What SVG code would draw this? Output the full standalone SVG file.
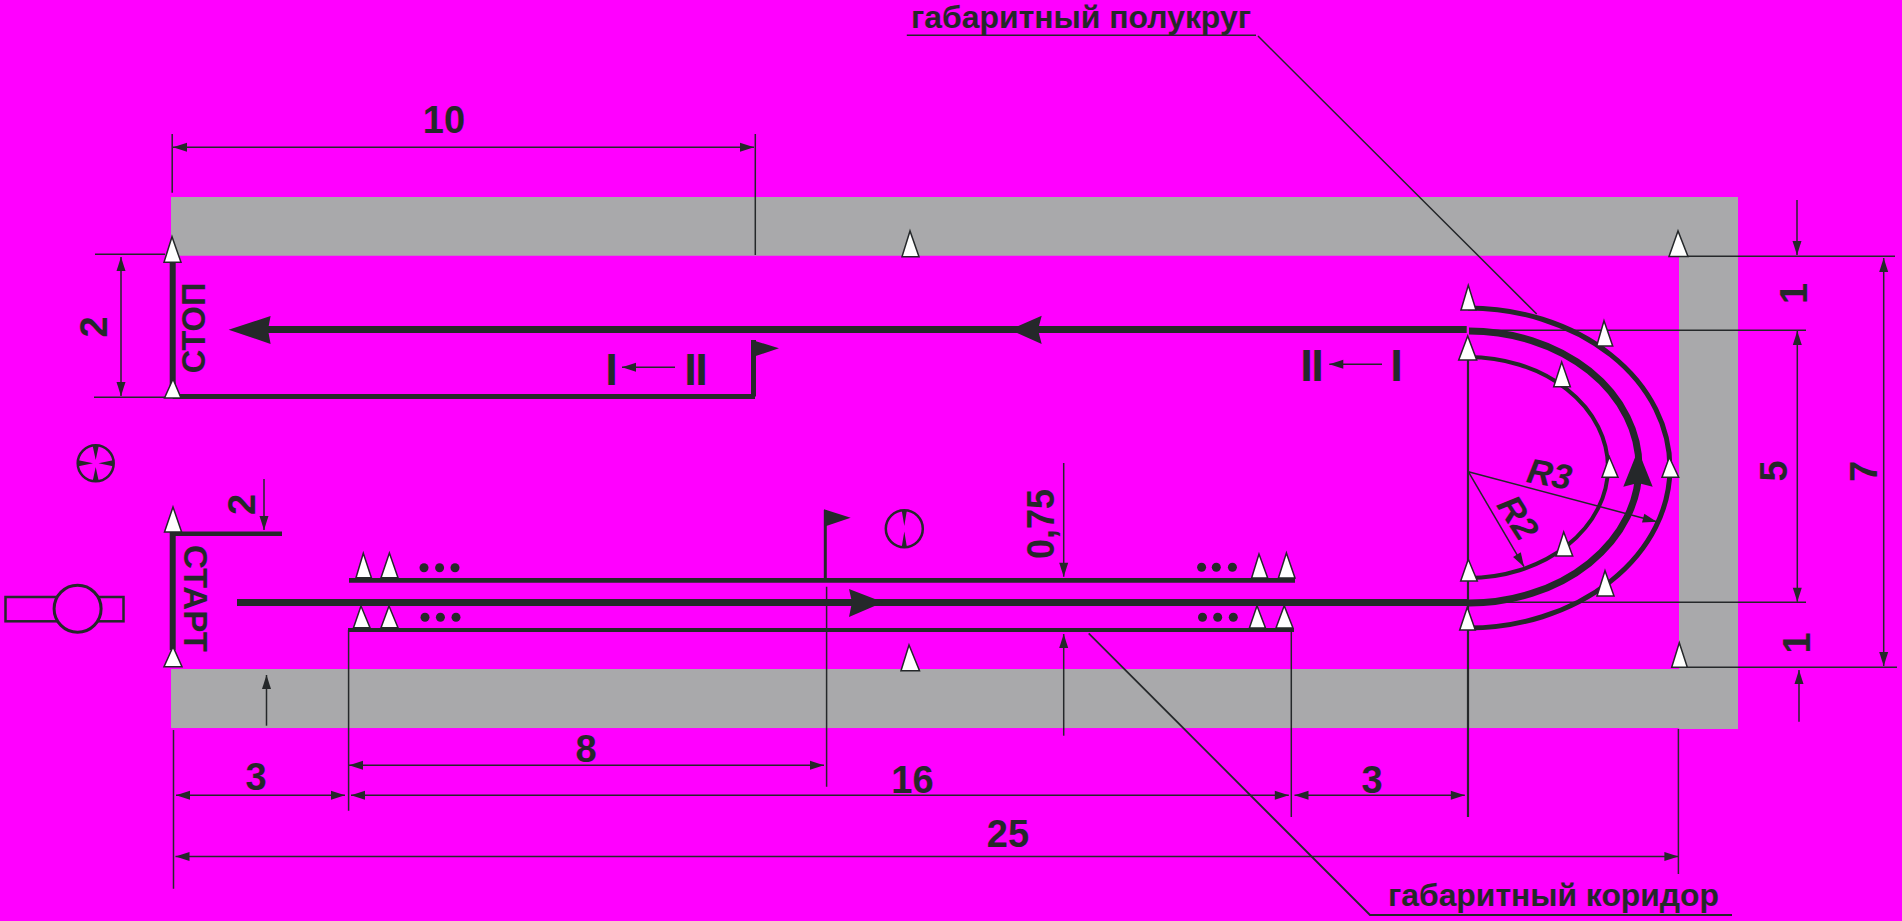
<svg xmlns="http://www.w3.org/2000/svg" width="1902" height="921" viewBox="0 0 1902 921">
<style>
.t{font-family:"Liberation Sans",Arial,sans-serif;font-weight:bold;fill:#25282a;text-anchor:middle}
.d{font-size:38px}
.n{font-size:33px}
.r{font-size:35px;font-style:italic}
.b{font-size:45px}
.l{font-size:31px;text-anchor:start}
.cone{fill:#fff;stroke:#25282a;stroke-width:1.5;stroke-linejoin:miter}
.thin{stroke:#25282a;stroke-width:1.5;fill:none}
.dim{stroke:#25282a;stroke-width:1.5;fill:none;marker-start:url(#ah);marker-end:url(#ah)}
.one{stroke:#25282a;stroke-width:1.5;fill:none;marker-end:url(#ah)}
.heavy{stroke:#25282a;fill:none}
.fill{fill:#25282a}
.sym{fill:none;stroke:#25282a;stroke-width:2.5}
</style>
<defs>
<marker id="ah" markerUnits="userSpaceOnUse" viewBox="0 -5 14 10" refX="14" refY="0" markerWidth="14" markerHeight="10" orient="auto-start-reverse" overflow="visible"><path d="M14 0L0 -4.5V4.5Z" fill="#25282a"/></marker>
</defs>
<rect width="1902" height="921" fill="#ff00ff"/>
<g id="track-border">
<path fill="#a9a9ab" d="M171 197H1738V729H1679V728H171V669H1679V255.7H171Z"/>
</g>
<g id="connectors">
<!-- extension lines -->
<path class="thin" d="M172.2 134V192.7M755.3 134V255M95 254.3H165M94 397.3H165M173.5 730V888.7M348.6 630V810.7M826.6 586.7V786.7M1291.3 630V817M1678.4 729V874M1470 330.3H1806M1490 602.3H1806M1688 256.3H1895M1687 667.3H1897"/>
<!-- dimension lines -->
<line class="dim" x1="173" y1="147.3" x2="754" y2="147.3"/>
<line class="dim" x1="121" y1="257" x2="121" y2="396"/>
<line class="dim" x1="176" y1="795.3" x2="345" y2="795.3"/>
<line class="dim" x1="351" y1="795.3" x2="1288.8" y2="795.3"/>
<line class="dim" x1="1294.5" y1="795.3" x2="1464.8" y2="795.3"/>
<line class="dim" x1="349" y1="765.3" x2="824" y2="765.3"/>
<line class="dim" x1="175.5" y1="856.5" x2="1678.4" y2="856.5"/>
<line class="dim" x1="1797.3" y1="331" x2="1797.3" y2="601.7"/>
<line class="dim" x1="1883.7" y1="258" x2="1883.7" y2="666"/>
<line class="one" x1="264" y1="479" x2="264" y2="530"/>
<line class="one" x1="266.5" y1="725.7" x2="266.5" y2="675"/>
<line class="one" x1="1063.7" y1="463" x2="1063.7" y2="576.7"/>
<line class="one" x1="1063.7" y1="735.7" x2="1063.7" y2="634"/>
<line class="one" x1="1797" y1="200" x2="1797" y2="255"/>
<line class="one" x1="1799" y1="721.7" x2="1799" y2="670"/>
<line class="one" x1="675" y1="367.3" x2="622" y2="367.3"/>
<line class="one" x1="1382" y1="364.3" x2="1329.3" y2="364.3"/>
<line class="one" x1="1468.3" y1="471.7" x2="1656.7" y2="521.7"/>
<line class="one" x1="1468.3" y1="471.7" x2="1524" y2="566.7"/>
<!-- leaders -->
<path class="thin" d="M906.8 35.3H1256M1258 36L1536.7 314"/>
<path class="thin" d="M1088.7 633.3L1370 915H1732" style="stroke-width:1.8"/>
<!-- centre line -->
<line class="heavy" x1="1468" y1="360" x2="1468" y2="817" stroke-width="2.2"/>
<!-- route lines -->
<path class="heavy" stroke-width="6" d="M172.7 262V396"/>
<path class="heavy" stroke-width="5" d="M172.7 396.5H755M753.5 396.5V340"/>
<path class="heavy" stroke-width="4.5" d="M172.7 533.7H282"/>
<path class="heavy" stroke-width="6" d="M172.7 532V650"/>
<path class="heavy" stroke-width="7" d="M258 329.5H1466.7"/>
<path class="heavy" stroke-width="7" d="M237 602.5H1469"/>
<path class="heavy" stroke-width="7" d="M1469 331A170 136 0 0 1 1469 603"/>
<path class="heavy" stroke-width="5" d="M1468 308A202 160 0 0 1 1468 628"/>
<path class="heavy" stroke-width="4" d="M1468 357A140 110.5 0 0 1 1468 578"/>
<path class="heavy" stroke-width="4.7" d="M349 580.3H1295"/>
<path class="heavy" stroke-width="3.8" d="M348 630H1294"/>
<line class="heavy" x1="825.3" y1="578" x2="825.3" y2="510" stroke-width="3"/>
<!-- route arrowheads and flags -->
<polygon class="fill" points="228.6,329.7 270.6,316 268,329.7 270.6,344"/>
<polygon class="fill" points="1010,329.7 1041.7,315.7 1038,329.7 1041.7,344"/>
<polygon class="fill" points="883.3,602.3 849,589 852,602.3 849,617"/>
<polygon class="fill" points="1638,450 1652.7,486.7 1638,483 1623.3,486.7"/>
<polygon class="fill" points="752,340 779,348.3 752,357.3"/>
<polygon class="fill" points="824,509.3 850.7,517.7 824,526.7"/>
</g>
<g id="cones">
<polygon class="cone" id="c1" points="172,236.7 164,262.3 181,262.3"/>
<polygon class="cone" id="c2" points="173,379 164.5,398 181,398"/>
<polygon class="cone" id="c3" points="173,507 164.5,532 181.6,532"/>
<polygon class="cone" id="c4" points="173,646.7 164,666.7 182,666.7"/>
<polygon class="cone" id="c5" points="910,231 902,256.7 919,256.7"/>
<polygon class="cone" id="c6" points="909,645 901,670.7 919.5,670.7"/>
<polygon class="cone" id="c7" points="1678,231 1669,256.5 1688,256.5"/>
<polygon class="cone" id="c8" points="1679.3,642.7 1671.7,667.3 1687.3,667.3"/>
<polygon class="cone" id="c9" points="363.3,553.3 356,577.7 371.4,577.7"/>
<polygon class="cone" id="c10" points="389.4,553 381,577.7 398,577.7"/>
<polygon class="cone" id="c11" points="361,606 353.5,627.7 370,627.7"/>
<polygon class="cone" id="c12" points="389,606 381,627.7 398,627.7"/>
<polygon class="cone" id="c13" points="1259,554 1251.6,578 1267.7,578"/>
<polygon class="cone" id="c14" points="1286.4,553 1278.4,578 1295,578"/>
<polygon class="cone" id="c15" points="1257,605.7 1249.4,628 1265.5,628"/>
<polygon class="cone" id="c16" points="1284.2,605.7 1276,628 1293,628"/>
<polygon class="cone" id="c17" points="1468.3,285.3 1461,310 1476,310"/>
<polygon class="cone" id="c18" points="1467.7,336 1458.7,360 1476.7,360"/>
<polygon class="cone" id="c19" points="1604,320.7 1596.7,346 1612.7,346"/>
<polygon class="cone" id="c20" points="1561.7,362 1553.7,386.7 1570.3,386.7"/>
<polygon class="cone" id="c21" points="1609.3,456.7 1602,477.3 1618,477.3"/>
<polygon class="cone" id="c22" points="1669.3,457.3 1662,477.3 1678.7,477.3"/>
<polygon class="cone" id="c23" points="1563.7,532 1556,556 1572.7,556"/>
<polygon class="cone" id="c24" points="1468.3,559.3 1460.7,581 1477.3,581"/>
<polygon class="cone" id="c25" points="1605,570.7 1597,596 1614,596"/>
<polygon class="cone" id="c26" points="1467.3,607.3 1459.7,630 1475.3,630"/>
</g>
<g id="dots" class="fill">
<circle cx="424" cy="567.7" r="4.5"/><circle cx="439.6" cy="567.7" r="4.5"/><circle cx="455" cy="567.7" r="4.5"/>
<circle cx="425" cy="617.3" r="4.5"/><circle cx="440.4" cy="617.3" r="4.5"/><circle cx="456" cy="617.3" r="4.5"/>
<circle cx="1201.6" cy="567.3" r="4.5"/><circle cx="1216.3" cy="567.3" r="4.5"/><circle cx="1232.4" cy="567.3" r="4.5"/>
<circle cx="1202.5" cy="617.3" r="4.5"/><circle cx="1217.7" cy="617.3" r="4.5"/><circle cx="1233.3" cy="617.3" r="4.5"/>
</g>
<g id="car">
<rect x="5.5" y="597" width="118" height="24.3" fill="none" stroke="#25282a" stroke-width="2.5"/>
<circle cx="77.6" cy="608.7" r="23.5" fill="#ff00ff" stroke="#25282a" stroke-width="3"/>
</g>
<g id="symbol-cross">
<circle class="sym" cx="95.7" cy="463.3" r="18"/>
<path class="fill" d="M92.7 446L98.7 446L95.7 460ZM92.7 481L98.7 481L95.7 467ZM78.5 460.3L78.5 466.3L93 463.3ZM113 460.3L113 466.3L98.5 463.3Z"/>
</g>
<g id="symbol-vertical">
<circle class="sym" cx="904.3" cy="528.7" r="18.5"/>
<path class="fill" d="M901.8 511H906.8L904.3 526ZM901.8 546.5H906.8L904.3 531.5Z"/>
</g>
<g id="labels">
<text class="t d" x="444" y="132.7">10</text>
<text class="t d" transform="translate(106.5 327) rotate(-90)">2</text>
<text class="t d" transform="translate(255 504.5) rotate(-90)">2</text>
<text class="t n" transform="translate(205 328) rotate(-90)" textLength="90.6" lengthAdjust="spacingAndGlyphs">СТОП</text>
<text class="t n" transform="translate(184 598.5) rotate(90)" textLength="107" lengthAdjust="spacingAndGlyphs">СТАРТ</text>
<text class="t d" x="256" y="790">3</text>
<text class="t d" x="586" y="762">8</text>
<text class="t d" x="912.5" y="792.7">16</text>
<text class="t d" x="1372" y="793">3</text>
<text class="t d" x="1008" y="846.7">25</text>
<text class="t d" transform="translate(1054 524) rotate(-90)" textLength="70" lengthAdjust="spacingAndGlyphs">0,75</text>
<text class="t d" transform="translate(1807 293.5) rotate(-90)">1</text>
<text class="t d" transform="translate(1810 643) rotate(-90)">1</text>
<text class="t d" transform="translate(1787 471) rotate(-90)">5</text>
<text class="t d" transform="translate(1877 471.5) rotate(-90)">7</text>
<text class="t b" x="611.5" y="385">I</text>
<text class="t b" style="text-anchor:start" x="684.25 695.25" y="385">II</text>
<text class="t b" style="text-anchor:start" x="1300.25 1311.25" y="381">II</text>
<text class="t b" x="1396.5" y="381">I</text>
<text class="t r" transform="translate(1547.5 486) rotate(10)">R3</text>
<text class="t r" transform="translate(1508 524) rotate(57)">R2</text>
<text class="t l" x="911" y="27.7" textLength="340" lengthAdjust="spacingAndGlyphs">габаритный полукруг</text>
<text class="t l" x="1388" y="905.7" textLength="331" lengthAdjust="spacingAndGlyphs">габаритный коридор</text>
</g>
</svg>
